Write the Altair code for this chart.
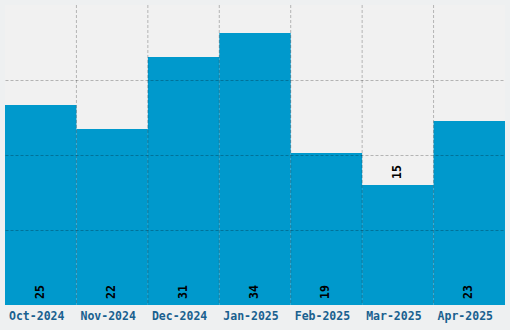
import altair as alt
import pandas as pd

months = ["Oct-2024", "Nov-2024", "Dec-2024", "Jan-2025", "Feb-2025", "Mar-2025", "Apr-2025"]
values = [25, 22, 31, 34, 19, 15, 23]

df = pd.DataFrame({"month": months, "value": values})
df["label_y"] = [0 if v >= 17 else v for v in values]

grid_df = pd.DataFrame({"month": months[1:]})

FONT = "DejaVu Sans Mono"

x_enc = alt.X("month:N", sort=months, title=None,
              scale=alt.Scale(paddingInner=0, paddingOuter=0),
              axis=alt.Axis(labelAngle=0, labelFont=FONT, labelFontWeight="bold",
                            labelFontSize=11.5, labelColor="#19608f", labelPadding=5,
                            labelOffset=-4,
                            ticks=False, domain=False, grid=False))
y_scale = alt.Scale(domain=[0, 37.5], nice=False, zero=True)

bars = alt.Chart(df).mark_bar(color="#0099cc").encode(
    x=x_enc,
    y=alt.Y("value:Q", scale=y_scale, title=None,
            axis=alt.Axis(values=[9.375, 18.75, 28.125], labels=False, ticks=False,
                          domain=False, grid=True, gridColor="#000000", gridOpacity=0.25,
                          gridDash=[3, 2], zindex=1)),
)

vgrid = alt.Chart(grid_df).mark_rule(color="#000000", opacity=0.25, strokeDash=[3, 2]).encode(
    x=alt.X("month:N", sort=months, bandPosition=0),
)

labels = alt.Chart(df).mark_text(angle=270, align="left", baseline="middle", dx=6,
                                 font=FONT, fontWeight="bold", fontSize=11.5,
                                 color="#000000").encode(
    x=alt.X("month:N", sort=months),
    y=alt.Y("label_y:Q", scale=y_scale),
    text="value:Q",
)

chart = alt.layer(bars, vgrid, labels).properties(
    width=500, height=300,
    background="#eef0f1",
    padding={"left": 5, "top": 5, "right": 5, "bottom": 25},
    autosize=alt.AutoSizeParams(type="none"),
).configure_view(fill="#f1f1f1", stroke=None)

chart.save("out.html", embed_options={"renderer": "svg", "actions": False})
